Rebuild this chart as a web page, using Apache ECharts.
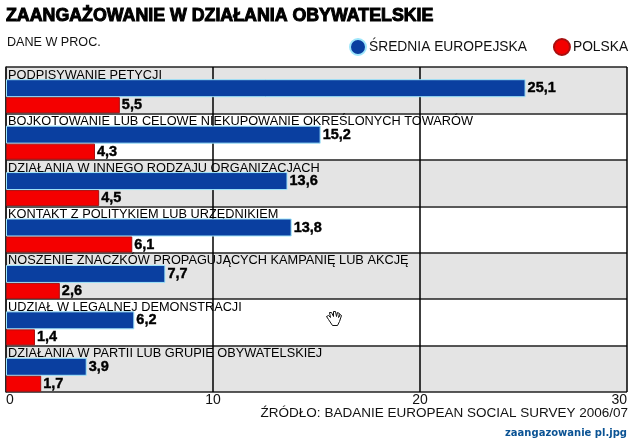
<!DOCTYPE html>
<html><head><meta charset="utf-8">
<style>html,body{margin:0;padding:0;background:#fff}#c{width:636px;height:444px}</style>
<script src="https://cdn.jsdelivr.net/npm/echarts@6/dist/echarts.min.js"></script>
</head><body><div id="c"></div>
<script>
const categories = [
 "PODPISYWANIE PETYCJI",
 "BOJKOTOWANIE LUB CELOWE NIEKUPOWANIE OKREŚLONYCH TOWARÓW",
 "DZIAŁANIA W INNEGO RODZAJU ORGANIZACJACH",
 "KONTAKT Z POLITYKIEM LUB URZĘDNIKIEM",
 "NOSZENIE ZNACZKÓW PROPAGUJĄCYCH KAMPANIĘ LUB AKCJĘ",
 "UDZIAŁ W LEGALNEJ DEMONSTRACJI",
 "DZIAŁANIA W PARTII LUB GRUPIE OBYWATELSKIEJ"
];
const srednia = [25.1,15.2,13.6,13.8,7.7,6.2,3.9];
const polska = [5.5,4.3,4.5,6.1,2.6,1.4,1.7];
const spacer = categories.map(()=>null);
const font = '"Liberation Sans", Arial, sans-serif';
const valLabel = {show:true,position:'right',distance:2,color:'#000',fontFamily:font,fontWeight:'bold',fontSize:14.5,
  textBorderColor:'#000',textBorderWidth:0.4,formatter:p=>String(p.value).replace('.',',')};
const chart = echarts.init(document.getElementById('c'),null,{renderer:'canvas'});
chart.setOption({
 animation:false,backgroundColor:'#fff',
 title:[
  {text:'ZAANGAŻOWANIE W DZIAŁANIA OBYWATELSKIE',left:6,top:7,padding:0,textStyle:{fontFamily:font,fontWeight:'bold',fontSize:17.8,color:'#000',textBorderColor:'#000',textBorderWidth:1}},
  {text:'DANE W PROC.',left:7,top:36,padding:0,textStyle:{fontFamily:font,fontWeight:'normal',fontSize:12.6,color:'#111'}},
  {text:'ŹRÓDŁO: BADANIE EUROPEAN SOCIAL SURVEY 2006/07',right:8,top:406,padding:0,textStyle:{fontFamily:font,fontWeight:'normal',fontSize:13.5,color:'#111'}},
  {text:'zaangazowanie pl.jpg',right:9,top:428,padding:0,textStyle:{fontFamily:'"DejaVu Sans", sans-serif',fontWeight:'bold',fontSize:10,color:'#0b5394'}}
 ],
 legend:{data:['ŚREDNIA EUROPEJSKA','POLSKA'],left:349,top:38,padding:0,itemGap:26,itemWidth:16,itemHeight:16,icon:'circle',
   textStyle:{fontFamily:font,fontSize:13.8,color:'#111',padding:[0,0,0,-2]},selectedMode:false},
 grid:{left:6,right:9,top:67,bottom:52,containLabel:false},
 xAxis:{type:'value',min:0,max:30,interval:10,position:'bottom',
   axisLine:{show:false},axisTick:{show:false},
   splitLine:{show:true,lineStyle:{color:'#000',width:1.5}},
   axisLabel:{color:'#111',fontFamily:font,fontSize:14,margin:1,alignMinLabel:'left',alignMaxLabel:'right'}},
 yAxis:{type:'category',inverse:true,data:categories,
   axisLine:{show:true,lineStyle:{color:'#222',width:1.5}},axisTick:{show:false},
   splitLine:{show:true,lineStyle:{color:'#222',width:1.5}},
   splitArea:{show:true,areaStyle:{color:['#e4e4e4','#ffffff']}},
   axisLabel:{inside:true,interval:0,margin:2,align:'left',verticalAlign:'middle',lineHeight:30,formatter:v=>v+'\n ',color:'#000',fontFamily:font,fontSize:12.75}},
 series:[
  {name:'spacer',type:'bar',barWidth:12,barGap:0,data:spacer,silent:true},
  {name:'ŚREDNIA EUROPEJSKA',type:'bar',barWidth:18,barGap:0,data:srednia,
    itemStyle:{color:'#0a3fa0',borderColor:'#9fe6fb',borderWidth:1},label:valLabel},
  {name:'POLSKA',type:'bar',barWidth:16,barGap:0,data:polska,
    itemStyle:{color:'#f40000',borderColor:'#a81010',borderWidth:1},label:valLabel}
 ],
 graphic:{elements:[{type:'polygon',left:326,top:311,z:100,silent:true,
   shape:{points:[[3,9],[1,6],[3,5],[5,7],[4,2],[6,2],[8,6],[8,1],[10,1],[11,6],[12,2],[14,3],[13,7],[15,4],[16,5],[14,11],[12,15],[7,15]]},
   style:{fill:'#fff',stroke:'#111',lineWidth:1}}]}
});
</script></body></html>
